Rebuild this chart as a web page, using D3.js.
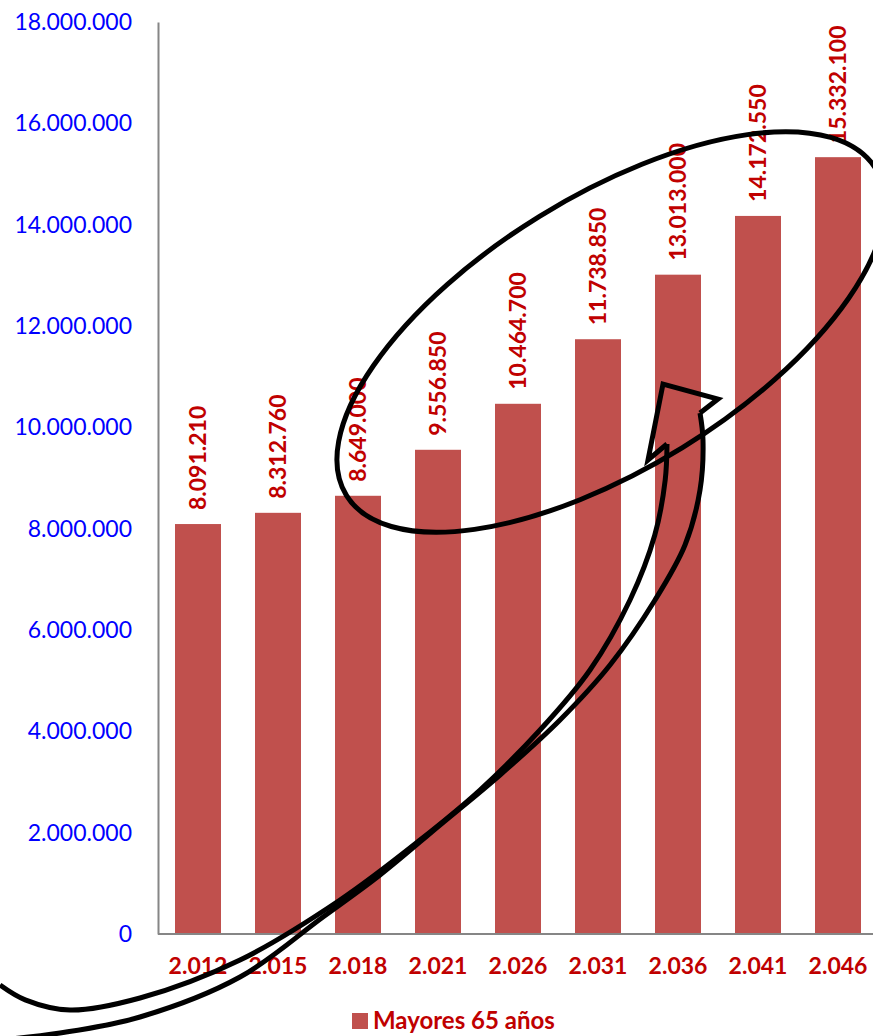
<!DOCTYPE html>
<html>
<head>
<meta charset="utf-8">
<script src="https://cdn.jsdelivr.net/npm/d3@7"></script>
<style>
	body { margin: 0; background: #fff; }
	svg { display: block; }
	svg text { font-family: Lato, "Open Sans", sans-serif; }
</style>
</head>
<body>
<div id="chart"></div>
<script>
// Datos del gráfico
var years = ["2.012", "2.015", "2.018", "2.021", "2.026", "2.031", "2.036", "2.041", "2.046"];
var mayores65 = [8091210, 8312760, 8649000, 9556850, 10464700, 11738850, 13013000, 14172550, 15332100];
var yTicks = [0, 2000000, 4000000, 6000000, 8000000, 10000000, 12000000, 14000000, 16000000, 18000000];
var serieName = "Mayores 65 años";

// Anotaciones a mano (índice de categoría, valor en millones)
var flechaIzq = [[-2.475, -1.007], [-2.16, -1.30], [-1.6, -1.5], [-0.725, -1.263], [0.525, -0.513], [1.775, 0.671],
	[2.775, 1.855], [3.525, 2.842], [4.275, 4.026], [4.9, 5.211], [5.4, 6.592], [5.71, 7.875], [5.84, 8.961], [5.8625, 9.671]];
var flechaPunta = [[5.8625, 9.671], [5.625, 9.355], [5.8125, 10.855], [6.5, 10.559], [6.275, 10.283]];
var flechaDer = [[6.275, 10.283], [6.3125, 9.75], [6.275, 8.763], [6.0875, 7.678], [5.7125, 6.592], [5.15, 5.309],
	[4.525, 4.224], [3.775, 3.138], [3.025, 2.151], [2.275, 1.164], [1.5625, 0.336], [0.525, -0.849],
	[-0.725, -1.638], [-1.725, -1.954], [-2.475, -2.092]];
var elipse = { idx: 5.1625, valor: 11.882 };

var width = 873, height = 1036;
var margin = { top: 22, left: 158, bottom: 102 };
var plotBottom = height - margin.bottom;

var svg = d3.select("#chart").append("svg")
	.attr("width", width)
	.attr("height", height);

var x = d3.scaleBand()
	.domain(years)
	.range([margin.left, margin.left + 80 * years.length])
	.paddingInner(0.425)
	.paddingOuter(0.2125);

var y = d3.scaleLinear()
	.domain([0, 18000000])
	.range([plotBottom, margin.top]);

// posición de las anotaciones
var xi = d3.scaleLinear()
	.domain([0, years.length - 1])
	.range([x(years[0]) + x.bandwidth() / 2, x(years[years.length - 1]) + x.bandwidth() / 2]);
function pt(d) { return [xi(d[0]), y(d[1] * 1e6)]; }

var fmt = function (v) { return d3.format(",")(v).replace(/,/g, "."); };

// Barras
svg.selectAll(".bar")
	.data(mayores65)
	.enter()
	.append("rect")
	.attr("class", "bar")
	.attr("x", function (d, i) { return x(years[i]); })
	.attr("y", function (d) { return y(d); })
	.attr("width", x.bandwidth())
	.attr("height", function (d) { return plotBottom - y(d); })
	.style("fill", "#c0504d");

// Ejes
var yAxis = svg.append("g")
	.attr("transform", "translate(" + margin.left + ",0)")
	.call(d3.axisLeft(y).tickValues(yTicks).tickSize(0).tickPadding(26).tickFormat(fmt));
yAxis.attr("font-family", null);
yAxis.select(".domain").attr("stroke", "#868686").attr("stroke-width", 2);
yAxis.selectAll("text")
	.style("font-size", "23px")
	.style("fill", "#0000ff");

var xAxis = svg.append("g")
	.attr("transform", "translate(0," + plotBottom + ")")
	.call(d3.axisBottom(x).tickSize(0).tickPadding(24));
xAxis.attr("font-family", null);
xAxis.select(".domain").attr("stroke", "#868686").attr("stroke-width", 2)
	.attr("d", "M" + margin.left + ",0H" + (margin.left + 80 * years.length));
xAxis.selectAll("text")
	.style("font-size", "23px")
	.style("font-weight", "bold")
	.style("fill", "#c00000");

// Etiquetas de valor
svg.selectAll(".valor")
	.data(mayores65)
	.enter()
	.append("text")
	.attr("class", "valor")
	.attr("transform", function (d, i) {
		return "translate(" + (x(years[i]) + x.bandwidth() / 2) + "," + (y(d) - 14) + ") rotate(-90)";
	})
	.attr("dy", "0.35em")
	.style("font-size", "23px")
	.style("font-weight", "bold")
	.style("fill", "#c00000")
	.text(function (d) { return fmt(d); });

// Leyenda
var leyenda = svg.append("g").attr("transform", "translate(352,1013)");
leyenda.append("rect").attr("width", 16).attr("height", 16).style("fill", "#c0504d");
leyenda.append("text")
	.attr("x", 21)
	.attr("y", 16)
	.style("font-size", "24px")
	.style("font-weight", "bold")
	.style("fill", "#c00000")
	.text(serieName);

// Elipse y flecha dibujadas a mano
var c = pt([elipse.idx, elipse.valor]);
svg.append("ellipse")
	.attr("cx", 0).attr("cy", 0)
	.attr("rx", 311).attr("ry", 136)
	.attr("transform", "translate(" + c[0] + "," + c[1] + ") rotate(-31.7)")
	.style("fill", "none")
	.style("stroke", "#000")
	.style("stroke-width", 5);

var curva = d3.line().curve(d3.curveCatmullRom);
var recta = d3.line();
svg.append("path").attr("class", "flecha").attr("d", curva(flechaIzq.map(pt)));
svg.append("path").attr("class", "flecha").attr("d", recta(flechaPunta.map(pt)));
svg.append("path").attr("class", "flecha").attr("d", curva(flechaDer.map(pt)));
svg.selectAll(".flecha")
	.style("fill", "none")
	.style("stroke", "#000")
	.style("stroke-width", 5)
	.style("stroke-linejoin", "miter");
</script>
</body>
</html>
